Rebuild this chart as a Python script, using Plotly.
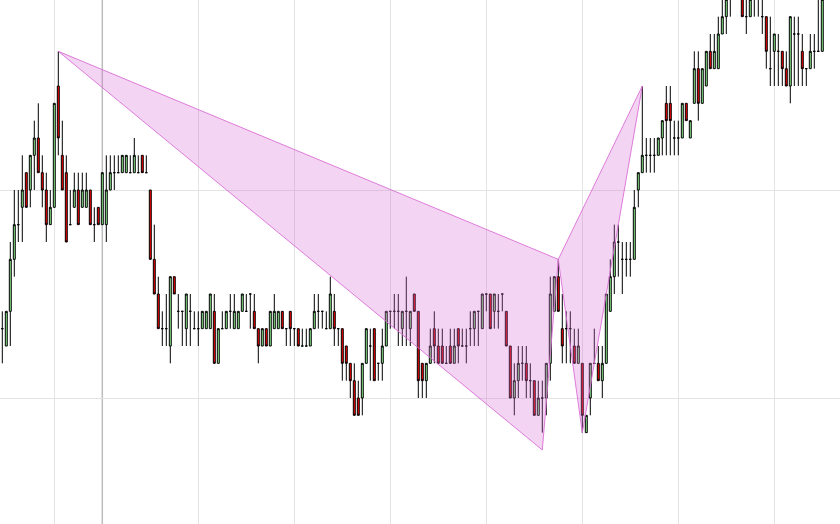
import plotly.graph_objects as go

# Price levels (one unit = one price step), one entry per bar
opens = [
    -8, -9, -7, -4, -2, -1, 1, 0, 2, 3, 1, 0, -2, -1, 6, 2, 1, -2, -1, 0,
    -1, -1, 0, -2, -1, -2, -2, 0, 1, 1, 1, 1, 1, 1, 1, 2, 1, 0, -4, -6,
    -8, -8, -9, -5, -7, -7, -8, -7, -8, -8, -8, -8, -8, -7, -10, -8, -8, -7, -8, -8,
    -7, -7, -6, -7, -8, -9, -8, -9, -8, -8, -7, -8, -7, -8, -8, -9, -9, -9, -8, -7,
    -7, -8, -8, -7, -8, -8, -9, -10, -11, -12, -12, -10, -9, -8, -10, -10, -9, -7, -7, -7,
    -8, -7, -8, -6, -7, -10, -11, -10, -8, -9, -9, -10, -9, -10, -8, -9, -9, -8, -8, -7,
    -8, -6, -6, -7, -7, -6, -7, -9, -12, -11, -10, -10, -11, -11, -13, -12, -12, -10, -7, -5,
    -8, -8, -8, -9, -10, -10, -14, -12, -10, -10, -11, -10, -7, -5, -3, -4, -4, -4, -4, 0,
    1, 2, 2, 2, 2, 3, 5, 5, 3, 3, 3, 5, 3, 5, 7, 5, 6, 8, 7, 7,
    9, 10, 11, 12, 12, 11, 10, 10, 11, 11, 10, 10, 7, 8, 8, 8, 7, 6, 9, 9,
    8, 7, 7, 8, 8, 8,
]
highs = [
    -7, -7, -3, 0, 0, 2, 1, 2, 4, 5, 2, 1, 0, 5, 8, 4, 2, 0, 1, 1,
    1, 1, 0, -1, -1, 1, 2, 2, 2, 2, 2, 2, 2, 3, 2, 2, 2, 0, -2, -5,
    -7, -6, -5, -5, -6, -7, -6, -6, -7, -7, -7, -7, -6, -6, -8, -7, -7, -6, -6, -7,
    -6, -6, -6, -6, -8, -8, -8, -7, -6, -7, -7, -8, -7, -8, -8, -8, -8, -8, -6, -6,
    -7, -7, -5, -6, -8, -8, -9, -10, -10, -11, -10, -8, -8, -8, -10, -8, -7, -7, -6, -6,
    -7, -5, -7, -6, -7, -10, -10, -8, -7, -8, -8, -9, -8, -8, -8, -8, -8, -7, -7, -7,
    -6, -6, -6, -6, -6, -6, -7, -9, -10, -9, -9, -9, -10, -11, -11, -11, -10, -5, -5, -4,
    -6, -7, -7, -8, -8, -10, -13, -10, -8, -9, -9, -6, -4, -2, -2, -3, -3, -3, 0, 1,
    6, 3, 3, 3, 3, 4, 6, 6, 4, 4, 5, 5, 4, 8, 8, 7, 8, 9, 9, 10,
    11, 11, 12, 13, 13, 11, 11, 11, 12, 12, 11, 10, 10, 9, 9, 8, 8, 10, 10, 10,
    9, 7, 9, 9, 11, 12,
]
lows = [
    -10, -9, -9, -5, -3, -3, -1, -1, 0, 1, -1, -3, -2, -1, 2, 0, -3, -2, -1, -2,
    -1, -1, -2, -3, -2, -2, -3, 0, 0, 1, 1, 1, 1, 1, 1, 1, 1, -4, -6, -8,
    -9, -9, -10, -6, -8, -9, -9, -9, -8, -9, -8, -8, -8, -10, -10, -8, -8, -8, -8, -8,
    -7, -7, -8, -8, -10, -9, -9, -9, -8, -8, -8, -9, -9, -9, -9, -9, -9, -9, -8, -8,
    -8, -8, -8, -9, -9, -11, -11, -12, -13, -13, -13, -10, -11, -11, -11, -11, -9, -8, -8, -9,
    -9, -9, -9, -7, -12, -12, -12, -10, -10, -10, -10, -10, -10, -10, -10, -9, -10, -9, -9, -9,
    -8, -7, -8, -8, -8, -7, -9, -12, -13, -12, -11, -12, -12, -13, -13, -14, -13, -11, -7, -7,
    -10, -10, -10, -10, -10, -14, -14, -13, -10, -11, -12, -10, -7, -6, -5, -6, -5, -5, -4, -1,
    1, 1, 1, 1, 2, 2, 2, 2, 2, 2, 3, 4, 3, 5, 4, 5, 6, 7, 7, 7,
    9, 9, 10, 11, 11, 10, 9, 10, 10, 10, 9, 7, 6, 6, 6, 6, 6, 5, 6, 6,
    6, 6, 7, 7, 8, 8,
]
closes = [
    -8, -7, -4, -2, -2, 0, -1, 2, 3, 1, 0, -2, -1, 5, 3, 0, -3, -2, 0, -2,
    0, 0, -2, -2, -2, 1, 0, 1, 1, 1, 2, 2, 1, 2, 1, 1, 1, -4, -6, -8,
    -8, -8, -5, -6, -7, -7, -6, -7, -8, -8, -7, -7, -6, -10, -8, -8, -7, -7, -7, -7,
    -6, -7, -6, -8, -9, -8, -9, -7, -7, -7, -8, -8, -8, -8, -9, -9, -9, -8, -7, -7,
    -7, -8, -6, -8, -8, -10, -10, -11, -13, -13, -10, -8, -9, -11, -10, -9, -7, -7, -7, -7,
    -7, -7, -7, -7, -11, -11, -10, -9, -9, -10, -10, -10, -10, -9, -9, -9, -9, -8, -7, -7,
    -6, -6, -8, -6, -7, -6, -9, -12, -11, -10, -10, -11, -11, -13, -12, -12, -10, -6, -5, -7,
    -9, -8, -8, -10, -9, -13, -13, -10, -10, -11, -10, -6, -5, -3, -3, -4, -4, -4, -1, 1,
    2, 2, 2, 2, 3, 4, 4, 4, 3, 3, 5, 4, 4, 7, 5, 7, 8, 7, 8, 9,
    10, 11, 11, 12, 12, 10, 10, 11, 11, 11, 10, 8, 7, 9, 8, 7, 6, 10, 9, 9,
    7, 7, 8, 8, 8, 11,
]
bars = list(range(len(opens)))

# Harmonic pattern pivots X, A, B, C, D (bar number, price level)
pattern_bars = [14, 135, 139, 145, 160]
pattern_prices = [8, -15, -4, -14, 6]

GRID_BARS = [13, 49, 73, 97, 121, 145, 169, 193]
SESSION_BAR = 25

fig = go.Figure()

fig.add_trace(go.Candlestick(
    x=bars, open=opens, high=highs, low=lows, close=closes,
    increasing=dict(fillcolor="#90EE90", line=dict(color="#000000", width=1)),
    decreasing=dict(fillcolor="#FF0000", line=dict(color="#000000", width=1)),
    showlegend=False,
))

# XAB and BCD triangles drawn over the candles
for idx in ([0, 1, 2, 0], [2, 3, 4, 2]):
    fig.add_trace(go.Scatter(
        x=[pattern_bars[k] for k in idx],
        y=[pattern_prices[k] for k in idx],
        mode="lines",
        fill="toself",
        fillcolor="rgba(218,112,214,0.3)",
        line=dict(color="rgba(218,112,214,0.9)", width=1),
        showlegend=False,
        hoverinfo="skip",
    ))

fig.add_vline(x=SESSION_BAR, line_color="#bdbdbd", line_width=1.5, layer="below")

fig.update_layout(
    width=840, height=524,
    margin=dict(l=0, r=0, t=0, b=0),
    paper_bgcolor="white", plot_bgcolor="white",
    showlegend=False,
    xaxis=dict(
        range=[-0.575, 209.425],
        rangeslider=dict(visible=False),
        tickvals=GRID_BARS,
        showticklabels=False,
        showgrid=True, gridcolor="#e3e3e3", gridwidth=1,
        zeroline=False, showline=False,
    ),
    yaxis=dict(
        range=[-19.269, 10.962],
        tick0=0, dtick=12,
        showticklabels=False,
        showgrid=True, gridcolor="#e3e3e3", gridwidth=1,
        zeroline=False, showline=False,
    ),
)

# drop the page's default body margin so the chart fills the window
fig.write_html(
    "out.html",
    config={"displayModeBar": False},
    post_script="document.body.style.margin='0';",
)
